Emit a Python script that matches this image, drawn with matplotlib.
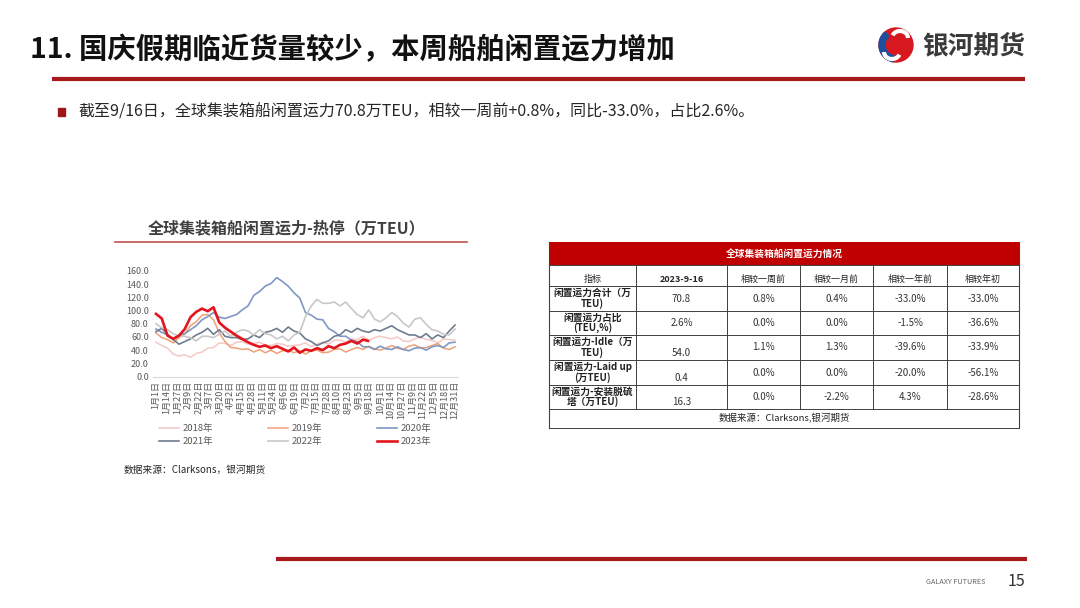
import numpy as np
import matplotlib
matplotlib.use("Agg")
import matplotlib.pyplot as plt
from matplotlib.patches import Rectangle, Circle, Wedge, Arc

plt.rcParams['font.family'] = ['Noto Sans CJK SC', 'DejaVu Sans']

# ---- data: weekly idle capacity (万TEU), week index -> day of year = 7*w
y2018 = [52, 47, 43, 34, 31, 33, 29, 35, 37, 43, 44, 51, 50, 47, 52, 53, 49, 50, 52, 48,
         47, 50, 49, 46, 47, 48, 51, 45, 49, 52, 49, 55, 55, 52, 57, 56, 61, 55, 59, 61,
         59, 57, 60, 54, 53, 57, 60, 56, 55, 51, 57, 56, 55]
y2019 = [66, 59, 56, 51, 59, 65, 77, 83, 93, 94, 86, 66, 53, 44, 43, 41, 42, 37, 41, 36,
         40, 35, 39, 40, 36, 39, 34, 39, 40, 36, 37, 41, 42, 37, 41, 44, 41, 46, 42, 40,
         43, 47, 43, 41, 46, 48, 43, 44, 47, 50, 43, 41, 45]
y2020 = [72, 67, 63, 57, 63, 65, 71, 77, 86, 91, 97, 90, 88, 91, 94, 101, 107, 123, 129, 137,
         141, 150, 144, 137, 127, 119, 97, 93, 87, 86, 73, 68, 61, 61, 55, 53, 45, 45, 41, 46,
         42, 41, 45, 41, 39, 43, 44, 40, 45, 47, 44, 51, 52]
y2021 = [68, 73, 64, 56, 49, 53, 57, 63, 67, 73, 64, 71, 61, 59, 59, 56, 57, 63, 59, 67,
         69, 73, 67, 75, 69, 66, 57, 53, 47, 51, 54, 61, 63, 71, 67, 73, 69, 67, 71, 69,
         73, 77, 71, 67, 63, 63, 59, 65, 57, 63, 59, 69, 78]
y2022 = [80, 74, 71, 65, 61, 61, 59, 54, 61, 61, 59, 64, 69, 61, 67, 71, 69, 63, 71, 65,
         63, 57, 61, 54, 63, 67, 91, 107, 117, 111, 111, 113, 107, 113, 103, 94, 89, 101, 87, 83,
         89, 97, 91, 81, 75, 87, 89, 79, 71, 69, 64, 63, 72]
y2023 = [95, 88, 62, 57, 62, 72, 90, 98, 103, 99, 105, 82, 74, 68, 62, 57, 52, 48, 45, 47,
         43, 46, 42, 38, 44, 36, 41, 39, 43, 40, 46, 43, 48, 50, 54, 50, 56, 54]
days_full = np.arange(0, 365, 7)
days_2023 = np.append(np.arange(0, 253, 7), 258)

series = [("2018年", y2018, days_full, "#f3c9c4", 1.1),
          ("2019年", y2019, days_full, "#efa176", 1.1),
          ("2020年", y2020, days_full, "#7f97c2", 1.2),
          ("2021年", y2021, days_full, "#6f7c8f", 1.2),
          ("2022年", y2022, days_full, "#c8c8c8", 1.2),
          ("2023年", y2023, days_2023, "#e3141c", 1.9)]

tick_days = np.arange(0, 365, 13)
tick_labels = ["1月1日", "1月14日", "1月27日", "2月9日", "2月22日", "3月7日", "3月20日", "4月2日",
               "4月15日", "4月28日", "5月11日", "5月24日", "6月6日", "6月19日", "7月2日", "7月15日",
               "7月28日", "8月10日", "8月23日", "9月5日", "9月18日", "10月1日", "10月14日",
               "10月27日", "11月9日", "11月22日", "12月5日", "12月18日", "12月31日"]

# ---- table data
tbl_title = "全球集装箱船闲置运力情况"
tbl_cols = ["指标", "2023-9-16", "相较一周前", "相较一月前", "相较一年前", "相较年初"]
tbl_rows = ["闲置运力合计（万\nTEU)", "闲置运力占比\n(TEU,%)", "闲置运力-Idle（万\nTEU)",
            "闲置运力-Laid up\n(万TEU)", "闲置运力-安装脱硫\n塔（万TEU)"]
tbl_vals = [["70.8", "0.8%", "0.4%", "-33.0%", "-33.0%"],
            ["2.6%", "0.0%", "0.0%", "-1.5%", "-36.6%"],
            ["54.0", "1.1%", "1.3%", "-39.6%", "-33.9%"],
            ["0.4", "0.0%", "0.0%", "-20.0%", "-56.1%"],
            ["16.3", "0.0%", "-2.2%", "4.3%", "-28.6%"]]
tbl_source = "数据来源：Clarksons,银河期货"

fig = plt.figure(figsize=(10.8, 6.08), dpi=100)
W, H = 1080, 608

# full-page canvas in pixel coords
cv = fig.add_axes([0, 0, 1, 1])
cv.set_xlim(0, W)
cv.set_ylim(H, 0)
cv.axis("off")

# header
cv.text(30, 50, "11. 国庆假期临近货量较少，本周船舶闲置运力增加", fontsize=20.4, fontweight="bold",
        color="#111111", va="center", ha="left")
cv.plot([52, 1025], [79, 79], color="#a8191d", lw=3, solid_capstyle="butt")
# logo
cv.add_patch(Circle((896, 45), 17, color="#d7181f"))
cv.add_patch(Wedge((896, 45), 17, 100, 230, width=6, color="#1d4f9c"))
cv.add_patch(Arc((900, 38), 16, 14, theta1=200, theta2=360, color="white", lw=3))
cv.add_patch(Arc((892, 52), 16, 14, theta1=20, theta2=180, color="white", lw=3))
cv.text(922, 46, "银河期货", fontsize=18.5, fontweight="bold", color="#3a3a3a", va="center", ha="left")

# bullet line
cv.add_patch(Rectangle((58, 108), 7, 8, color="#a01519"))
cv.text(78, 112, "截至9/16日，全球集装箱船闲置运力70.8万TEU，相较一周前+0.8%，同比-33.0%，占比2.6%。",
        fontsize=11.5, color="#262626", va="center", ha="left")

# chart title
cv.text(287, 228, "全球集装箱船闲置运力-热停（万TEU）", fontsize=11.5, fontweight="bold",
        color="#404040", ha="center", va="center")
cv.plot([115, 467], [242, 242], color="#c0504d", lw=1.2)
cv.text(124, 470, "数据来源：Clarksons，银河期货", fontsize=7, color="#262626", ha="left", va="center")

# footer
cv.plot([276, 1027], [559, 559], color="#a8191d", lw=3, solid_capstyle="butt")
cv.text(985, 582, "GALAXY FUTURES", fontsize=5.2, color="#666666", ha="right", va="center")
cv.text(1025, 581, "15", fontsize=11.5, color="#333333", ha="right", va="center")

# ---- table
xs = [549, 636, 727, 800, 873, 947, 1019]
ys = [242, 265, 286, 311, 335, 360, 385, 409, 428]
lc = "#3f3f3f"
cv.add_patch(Rectangle((xs[0], ys[0]), xs[-1] - xs[0], ys[1] - ys[0], color="#c00000", lw=0))
cv.text((xs[0] + xs[-1]) / 2, (ys[0] + ys[1]) / 2, tbl_title, color="white", fontsize=7,
        fontweight="bold", ha="center", va="center")
for y in ys[1:]:
    cv.plot([xs[0], xs[-1]], [y, y], color=lc, lw=0.7)
cv.plot([xs[0], xs[0]], [ys[0], ys[-1]], color=lc, lw=0.8)
cv.plot([xs[-1], xs[-1]], [ys[0], ys[-1]], color=lc, lw=0.8)
for x in xs[1:-1]:
    cv.plot([x, x], [ys[1], ys[-2]], color=lc, lw=0.7)
for j, c in enumerate(tbl_cols):
    cv.text((xs[j] + xs[j + 1]) / 2, ys[2] - 2, c, fontsize=6.5,
            fontweight="bold" if j == 1 else "normal", color="#222222", ha="center", va="bottom")
for i, lab in enumerate(tbl_rows):
    y0, y1 = ys[i + 2], ys[i + 3]
    cv.text((xs[0] + xs[1]) / 2, (y0 + y1) / 2, lab, fontsize=7, fontweight="bold", color="#222222",
            ha="center", va="center", multialignment="center", linespacing=1.0)
    for j, v in enumerate(tbl_vals[i]):
        xc = (xs[j + 1] + xs[j + 2]) / 2
        if j == 0 and i >= 2:
            cv.text(xc, y1 - 2, v, fontsize=7, color="#333333", ha="center", va="bottom")
        else:
            cv.text(xc, (y0 + y1) / 2, v, fontsize=7, color="#333333", ha="center", va="center")
cv.text((xs[0] + xs[-1]) / 2, (ys[-2] + ys[-1]) / 2, tbl_source, fontsize=6.8, color="#222222",
        ha="center", va="center")

# ---- line chart
px_day = (455 - 156) / 364
x0 = -3 / px_day
x1 = 364 + 3 / px_day
ax = fig.add_axes([153 / W, (H - 376.5) / H, (458 - 153) / W, (376.5 - 271) / H])
lines = {}
for name, vals, d, col, lw in series:
    lines[name], = ax.plot(d, vals, color=col, lw=lw, label=name, zorder=3 if name == "2023年" else 2)
ax.set_xlim(x0, x1)
ax.set_ylim(0, 160)
ax.set_yticks(np.arange(0, 161, 20))
ax.set_yticklabels([f"{v:.1f}" for v in np.arange(0, 161, 20)])
ax.set_xticks(tick_days)
ax.set_xticklabels(tick_labels, rotation=90)
ax.tick_params(length=0, labelsize=6.5, labelcolor="#595959", pad=3)
for s in ["top", "right", "left"]:
    ax.spines[s].set_visible(False)
ax.spines["bottom"].set_color("#d9d9d9")
ax.patch.set_alpha(0)

order = ["2018年", "2021年", "2019年", "2022年", "2020年", "2023年"]
ax.legend([lines[k] for k in order], order, ncol=3, loc="upper left",
          bbox_to_anchor=(150 / W, (H - 416) / H), bbox_transform=fig.transFigure,
          frameon=False, fontsize=6.8, handlelength=2.2, handletextpad=0.3,
          columnspacing=5.8, labelspacing=0.35, labelcolor="#595959")

fig.savefig("out.png", dpi=100)
